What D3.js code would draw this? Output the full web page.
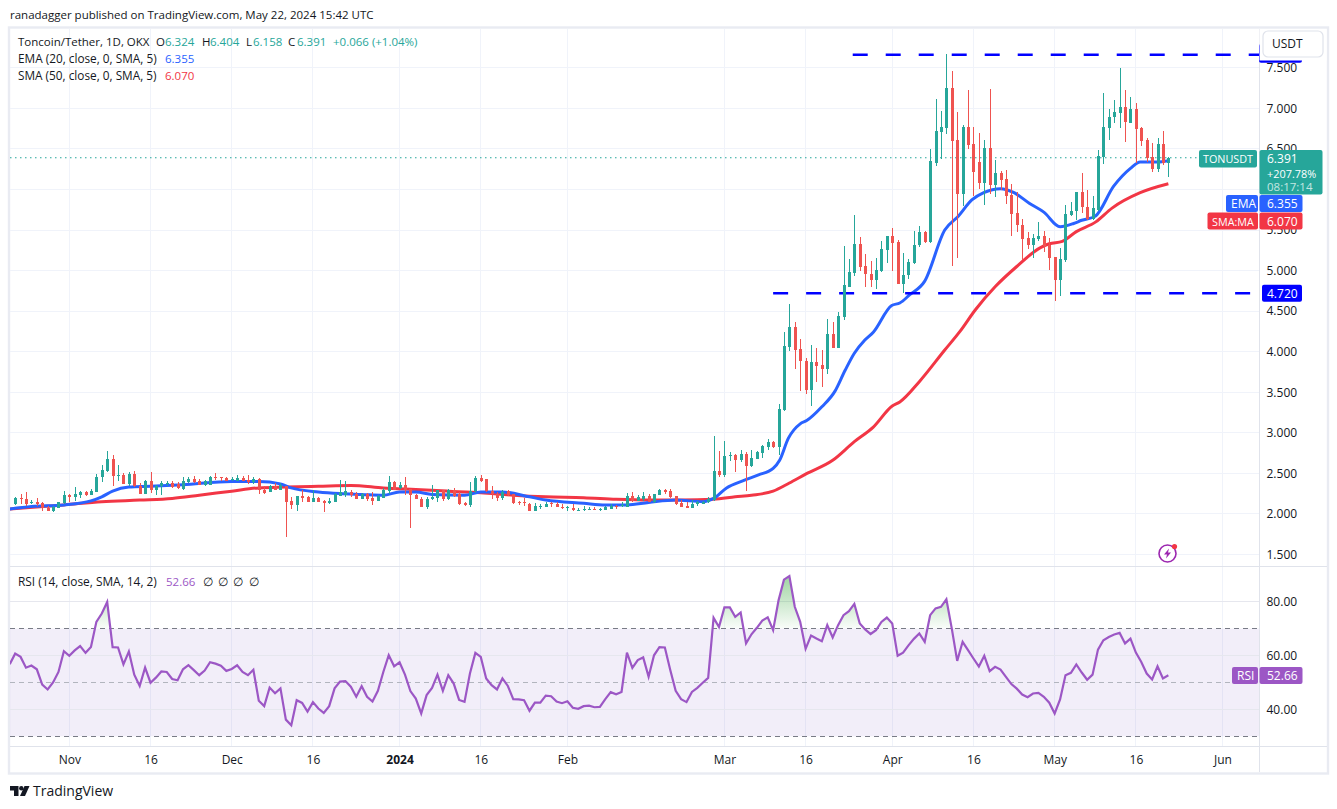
<!DOCTYPE html>
<html><head><meta charset="utf-8">
<script src="https://cdn.jsdelivr.net/npm/d3@7"></script>
<style>
html,body{margin:0;padding:0;background:#fff;overflow:hidden}
svg{display:block}
text{font-family:"Open Sans","Noto Sans",sans-serif;font-size:12px;fill:#131722}
</style></head><body>
<svg id="c" width="1337" height="809"></svg>
<script>
// first candle is 22 Oct 2023, one candle per day
const firstDay = "2023-10-22";
const opens = [2.12,2.19,2.18,2.14,2.15,2.13,2.07,2.04,2.07,2.13,
2.23,2.21,2.23,2.27,2.23,2.27,2.45,2.53,2.68,2.47,
2.48,2.37,2.49,2.34,2.25,2.41,2.29,2.34,2.37,2.38,
2.37,2.31,2.39,2.43,2.40,2.35,2.36,2.45,2.45,2.44,
2.42,2.41,2.44,2.42,2.39,2.43,2.30,2.27,2.34,2.30,
2.34,2.16,2.11,2.22,2.21,2.15,2.19,2.16,2.13,2.15,
2.22,2.23,2.27,2.25,2.18,2.24,2.19,2.16,2.20,2.28,
2.39,2.32,2.36,2.31,2.23,2.18,2.08,2.18,2.20,2.29,
2.18,2.29,2.24,2.13,2.11,2.28,2.44,2.43,2.28,2.25,
2.19,2.28,2.24,2.14,2.14,2.12,2.04,2.08,2.09,2.13,
2.12,2.09,2.08,2.07,2.05,2.05,2.05,2.06,2.05,2.05,
2.06,2.10,2.10,2.09,2.22,2.16,2.18,2.22,2.14,2.23,
2.29,2.28,2.22,2.13,2.10,2.07,2.12,2.12,2.14,2.17,
2.53,2.48,2.72,2.73,2.66,2.74,2.59,2.68,2.75,2.82,
2.89,2.82,3.28,4.06,4.31,4.03,3.88,3.53,3.87,3.83,
3.78,4.22,4.05,4.43,4.80,4.97,5.33,5.05,4.96,4.88,
5.00,5.25,5.42,5.35,4.84,4.94,5.09,5.31,5.48,5.35,
6.33,6.71,6.76,7.25,6.61,5.95,6.77,6.56,6.34,6.08,
6.51,6.06,6.20,6.13,5.93,5.71,5.56,5.40,5.32,5.39,
5.43,5.32,5.17,4.88,5.13,5.69,5.74,5.97,5.78,5.64,
5.75,6.40,6.76,6.89,6.94,7.02,6.82,6.99,6.76,6.61,
6.40,6.25,6.56,6.324];
const highs = [2.21,2.25,2.27,2.17,2.20,2.14,2.10,2.10,2.15,2.28,
2.25,2.33,2.28,2.28,2.31,2.49,2.60,2.77,2.73,2.60,
2.50,2.51,2.53,2.38,2.42,2.51,2.36,2.41,2.41,2.40,
2.39,2.45,2.46,2.47,2.43,2.42,2.47,2.50,2.46,2.45,
2.45,2.48,2.47,2.48,2.45,2.44,2.34,2.35,2.38,2.38,
2.34,2.21,2.22,2.29,2.22,2.30,2.21,2.17,2.19,2.26,
2.42,2.41,2.30,2.27,2.26,2.26,2.27,2.23,2.32,2.47,
2.40,2.39,2.45,2.31,2.25,2.21,2.21,2.36,2.30,2.30,
2.31,2.32,2.27,2.15,2.39,2.47,2.48,2.43,2.34,2.27,
2.29,2.30,2.25,2.16,2.19,2.13,2.13,2.12,2.15,2.15,
2.15,2.12,2.10,2.12,2.07,2.10,2.09,2.08,2.07,2.10,
2.12,2.11,2.15,2.26,2.27,2.23,2.27,2.24,2.25,2.31,
2.31,2.31,2.22,2.17,2.15,2.17,2.16,2.16,2.21,2.96,
2.78,2.90,2.76,2.74,2.79,2.76,2.79,2.78,2.85,2.92,
2.90,3.35,4.24,4.59,4.36,4.15,3.92,4.08,4.05,4.02,
4.40,4.36,4.49,5.30,5.14,5.69,5.41,5.21,5.12,5.16,
5.36,5.43,5.53,5.38,5.22,5.14,5.49,5.55,5.49,6.50,
7.11,6.97,7.67,7.46,6.95,6.79,7.23,6.77,6.70,6.61,
7.24,6.36,6.23,6.24,6.07,5.97,5.64,5.48,5.45,5.60,
5.49,5.40,5.17,5.28,5.81,5.85,5.97,6.20,5.99,5.92,
6.49,7.19,6.99,7.10,7.50,7.23,7.14,7.06,6.77,6.64,
6.57,6.63,6.72,6.404];
const lows = [2.11,2.12,2.10,2.12,2.10,2.03,2.04,2.02,2.07,2.12,
2.14,2.16,2.20,2.22,2.23,2.27,2.39,2.52,2.34,2.41,
2.37,2.34,2.33,2.25,2.25,2.26,2.23,2.23,2.34,2.32,
2.31,2.30,2.38,2.38,2.35,2.34,2.35,2.42,2.41,2.40,
2.40,2.40,2.40,2.37,2.37,2.25,2.24,2.27,2.30,2.30,
1.71,2.06,2.04,2.14,2.15,2.14,2.14,2.02,2.12,2.15,
2.22,2.21,2.21,2.18,2.18,2.16,2.11,2.16,2.19,2.25,
2.29,2.31,2.23,1.82,2.18,2.08,2.06,2.17,2.14,2.16,
2.17,2.21,2.11,2.10,2.09,2.26,2.39,2.27,2.18,2.16,
2.17,2.22,2.12,2.11,2.10,2.03,2.03,2.06,2.08,2.09,
2.08,2.06,2.04,2.04,2.04,2.03,2.05,2.05,2.04,2.05,
2.06,2.06,2.09,2.09,2.15,2.16,2.16,2.14,2.13,2.23,
2.24,2.20,2.11,2.08,2.07,2.07,2.10,2.12,2.13,2.16,
2.45,2.46,2.65,2.52,2.64,2.28,2.58,2.68,2.69,2.79,
2.81,2.73,3.27,4.01,3.78,3.51,3.48,3.33,3.62,3.57,
3.72,4.04,4.04,4.39,4.80,4.93,4.99,4.80,4.80,4.77,
4.98,5.09,4.99,4.84,4.72,4.89,5.08,5.29,5.34,5.34,
6.29,6.37,6.68,5.06,5.16,5.79,6.50,5.92,6.01,5.81,
5.95,5.91,5.99,5.82,5.43,5.47,5.13,5.26,5.15,5.36,
5.23,5.01,4.62,4.69,5.11,5.67,5.62,5.71,5.62,5.62,
5.73,6.31,6.61,6.82,6.76,6.58,6.82,6.33,6.54,6.34,
6.22,6.21,6.30,6.158];
const closes = [2.20,2.18,2.12,2.15,2.12,2.07,2.04,2.09,2.14,2.23,
2.21,2.25,2.27,2.23,2.28,2.46,2.54,2.68,2.47,2.48,
2.37,2.49,2.34,2.25,2.41,2.29,2.34,2.38,2.38,2.33,
2.32,2.41,2.43,2.39,2.36,2.40,2.45,2.44,2.44,2.40,
2.43,2.44,2.40,2.39,2.43,2.29,2.26,2.34,2.30,2.35,
2.15,2.11,2.22,2.20,2.15,2.19,2.15,2.13,2.16,2.25,
2.27,2.28,2.23,2.18,2.25,2.18,2.16,2.22,2.30,2.39,
2.30,2.36,2.30,2.23,2.18,2.08,2.18,2.21,2.29,2.18,
2.29,2.22,2.12,2.11,2.28,2.44,2.41,2.28,2.24,2.19,
2.27,2.23,2.13,2.13,2.13,2.04,2.10,2.10,2.12,2.12,
2.09,2.08,2.09,2.05,2.05,2.06,2.06,2.05,2.06,2.08,
2.10,2.09,2.11,2.22,2.16,2.21,2.22,2.15,2.25,2.29,
2.27,2.21,2.12,2.09,2.07,2.12,2.14,2.15,2.18,2.53,
2.48,2.71,2.73,2.66,2.74,2.59,2.69,2.76,2.84,2.89,
2.82,3.29,4.07,4.31,4.02,3.88,3.53,3.87,3.82,3.78,
4.22,4.05,4.44,4.82,4.98,5.33,5.04,4.96,4.88,5.01,
5.26,5.42,5.34,4.84,4.95,5.10,5.32,5.48,5.35,6.35,
6.72,6.77,7.25,6.60,5.95,6.77,6.55,6.21,6.08,6.51,
6.06,6.20,6.12,5.92,5.70,5.56,5.39,5.32,5.40,5.43,
5.30,5.16,4.88,5.14,5.70,5.74,5.97,5.78,5.64,5.77,
6.41,6.77,6.89,6.95,7.02,6.83,6.99,6.75,6.60,6.39,
6.25,6.56,6.32,6.391];
// moving averages: vertices (day number, value)
const emaDays = [-1,3,9,14,16,18,21,25,31,40,45,49,51,56,60,64,68,71,74,77,83,86,90,95,98,105,109,113,117,122,127,129,131.4,134.5,137.3,140,141.2,142.8,145,146.2,149,151.4,153.3,155,156.9,158.5,161.9,163.4,165.2,168,171.7,174.2,176.7,178.9,182,184.5,187.3,190,193,195.5,197,199.5,202.9,206,207.8,211,213];
const emaVals = [2.06,2.09,2.11,2.16,2.21,2.28,2.33,2.34,2.36,2.40,2.40,2.37,2.32,2.27,2.25,2.24,2.23,2.27,2.27,2.24,2.23,2.27,2.27,2.21,2.17,2.13,2.11,2.11,2.14,2.17,2.15,2.19,2.32,2.41,2.48,2.56,2.66,2.93,3.11,3.15,3.32,3.51,3.77,3.98,4.14,4.24,4.57,4.60,4.70,4.87,5.50,5.67,5.87,5.96,6.01,5.96,5.83,5.72,5.54,5.58,5.62,5.67,6.04,6.26,6.34,6.34,6.355];
const smaDays = [-1,9,16,23,29,34,40,45,50,56,62,68,74,80,86,92,98,105,111,117,123,129,133,136,140,143,146,151,155,158.5,162,163.4,167,171.7,174.4,177.4,181,185,189.3,191,193.4,196,199.6,202.6,207.8,213];
const smaVals = [2.06,2.11,2.15,2.17,2.19,2.23,2.28,2.32,2.33,2.34,2.35,2.32,2.30,2.28,2.26,2.23,2.21,2.20,2.18,2.17,2.17,2.18,2.21,2.23,2.28,2.38,2.49,2.66,2.89,3.07,3.33,3.38,3.63,4.02,4.24,4.52,4.80,5.05,5.28,5.33,5.36,5.48,5.60,5.77,5.96,6.07];
// RSI from 21 Oct 2023
const rsiVals = [56.8,60.7,59.5,55.5,56.3,54.9,49.2,47.4,50,53.9,61.6,59.9,61.9,63.5,61,63.2,72.5,75.6,79.9,63.1,63,56.7,61.5,52.9,48.7,55.5,49.9,51.8,54.1,53.9,51.3,50.8,54.9,56.4,54.6,52.7,54.4,57.5,57,56.2,54.3,55,56.4,53.9,52.7,54.7,43.2,41.2,48.1,46,47.8,36.2,34.1,43.4,42.4,39.2,42.7,40.3,38.7,41.2,47.8,50.3,50.5,48.4,44.7,48.6,44.7,42.9,46.9,53.9,60.1,56,57.5,52.9,46.8,44,38.5,45.3,48,52.9,46.9,
52.7,49.6,43.5,42.8,53.3,61,59.5,51.5,49,47.4,51.5,48.7,43.8,43.7,43.4,39.5,42.5,42.5,45.1,44.9,42.9,42.3,43,40.6,40.2,41.2,41.4,40.8,40.9,43.8,46.4,45.6,46.5,61.1,55.4,58.3,59.3,52.1,60.1,63.1,63,54.6,46.9,43.8,42.7,46.5,48,49.9,51.7,74,70.6,77.9,77.9,74.4,76,64.5,67.9,70.3,73,74.2,69.4,80.5,88.2,89.5,78.1,72.5,62.5,67.4,66.3,65.3,71.3,66.7,71.3,75,76.5,79.2,71.9,69.7,68,69.4,72.5,74.1,71.9,59.9,61.1,63.8,66.2,68.2,65.1,75,77.5,78.1,80.9,70,58,65.1,62,58.9,55.9,59.9,54.2,55.8,54.8,52.1,49.4,47.7,45.5,44.5,45.9,46.1,44.7,42.5,38.5,43.7,52.7,53.6,56.7,53.7,51,52.9,62.2,65.7,66.9,67.8,68.4,64.5,66.3,61.1,57.6,53.3,51.1,56,51.5,52.66];
// axis ticks
const timeTicks = ["2023-11-01","2023-11-16","2023-12-01","2023-12-16","2024-01-01","2024-01-16","2024-02-01","2024-03-01","2024-03-16","2024-04-01","2024-04-16","2024-05-01","2024-05-16","2024-06-01"];
const timeTickLabels = ["Nov","16","Dec","16","2024","16","Feb","Mar","16","Apr","16","May","16","Jun"];
const priceTicks = [7.5,7,6.5,6,5.5,5,4.5,4,3.5,3,2.5,2,1.5];
const priceLabelTicks = [7.5,7,6.5,5.5,5,4.5,4,3.5,3,2.5,2,1.5];
const rsiTicks = [80,60,40];
const rsiBands = [70,50,30];
// horizontal levels drawn on the chart
const levelPrices = [7.66,4.72];
const levelStartDays = [154.7,140];

const GREEN="#26a69a",RED="#ef5350",BLUE="#2962ff",SMAC="#f23645",PURPLE="#9c57c5",GRID="#f0f3fa",FRAME="#e9ebf2";
const L=10,R=1259,T=29,MB=565,RT=567,RB=746,AXB=772,OUT=1327;
const svg=d3.select("#c");
const day0=new Date(firstDay+"T00:00:00Z");
const dateOf=d=>new Date(+day0+d*864e5);
const x=d3.scaleUtc().domain([new Date("2023-11-01T00:00:00Z"),new Date("2024-06-01T00:00:00Z")]).range([69.3,1222.5]);
const xd=d=>x(dateOf(d));
const y=d3.scaleLinear().domain([7.5,1.5]).range([67.8,554.4]);
const yr=d3.scaleLinear().domain([80,30]).range([601.7,736.3]);

// frame
svg.append("rect").attr("x",L-1).attr("y",T-1.5).attr("width",OUT-L+2).attr("height",AXB-T+3).attr("fill","#fff").attr("stroke",FRAME).attr("stroke-width",2.4);
const defs=svg.append("defs");
defs.append("clipPath").attr("id","main").append("rect").attr("x",L).attr("y",T).attr("width",R-L).attr("height",MB-T);
defs.append("clipPath").attr("id","rp").append("rect").attr("x",L).attr("y",RT).attr("width",R-L).attr("height",RB-RT);
defs.append("clipPath").attr("id","ob").append("rect").attr("x",L).attr("y",RT).attr("width",R-L).attr("height",yr(70)-RT);
const gr=defs.append("linearGradient").attr("id","obg").attr("gradientUnits","userSpaceOnUse").attr("x1",0).attr("x2",0).attr("y1",yr(92)).attr("y2",yr(70));
gr.append("stop").attr("offset",0).attr("stop-color","#4caf50").attr("stop-opacity",.6);
gr.append("stop").attr("offset",1).attr("stop-color","#4caf50").attr("stop-opacity",.03);

// grid
const g=svg.append("g").attr("shape-rendering","crispEdges");
const tickDates=timeTicks.map(t=>new Date(t+"T00:00:00Z"));
g.selectAll(".v").data(tickDates).join("line").attr("x1",d=>x(d)).attr("x2",d=>x(d)).attr("y1",T).attr("y2",RB).attr("stroke",GRID);
g.selectAll(".h").data(priceTicks).join("line").attr("x1",L).attr("x2",R).attr("y1",d=>y(d)).attr("y2",d=>y(d)).attr("stroke",GRID);
// pane dividers
[[L,OUT,MB+1,MB+1],[L,OUT,RB,RB],[R,R,T,AXB]].forEach(s=>g.append("line").attr("x1",s[0]).attr("x2",s[1]).attr("y1",s[2]).attr("y2",s[3]).attr("stroke","#e0e3eb"));

// price pane
const main=svg.append("g").attr("clip-path","url(#main)");
const lineCurve=(days,vals,sc)=>d3.line().x((d,i)=>xd(days[i])).y(d=>sc(d)).curve(d3.curveMonotoneX)(vals);
main.append("path").attr("d",lineCurve(smaDays,smaVals,y)).attr("fill","none").attr("stroke",SMAC).attr("stroke-width",3);
main.append("path").attr("d",lineCurve(emaDays,emaVals,y)).attr("fill","none").attr("stroke",BLUE).attr("stroke-width",3);
// levels
main.selectAll(".lvl").data(levelPrices).join("line")
 .attr("x1",(d,i)=>xd(levelStartDays[i])).attr("x2",R).attr("y1",d=>y(d)).attr("y2",d=>y(d))
 .attr("stroke","#0000ff").attr("stroke-width",2.5).attr("stroke-dasharray","15 18");
// last price dotted
main.append("line").attr("x1",L).attr("x2",1199).attr("y1",y(closes[213])).attr("y2",y(closes[213])).attr("stroke",GREEN).attr("stroke-dasharray","1.5 3.5").attr("stroke-width",1.1);
// candles
const idx=d3.range(opens.length);
const colr=i=>closes[i]>=opens[i]?GREEN:RED;
const cg=main.append("g").attr("shape-rendering","crispEdges");
cg.selectAll(".w").data(idx).join("rect").attr("x",i=>Math.round(xd(i))).attr("width",1).attr("y",i=>y(highs[i])).attr("height",i=>y(lows[i])-y(highs[i])).attr("fill",colr);
cg.selectAll(".b").data(idx).join("rect").attr("x",i=>Math.round(xd(i))-1).attr("width",3)
 .attr("y",i=>y(Math.max(opens[i],closes[i]))).attr("height",i=>Math.max(1,Math.abs(y(opens[i])-y(closes[i])))).attr("fill",colr);

// flash icon
const ic=svg.append("g").attr("transform","translate(1167.5,553.5)");
ic.append("circle").attr("r",8.5).attr("fill","#fff").attr("stroke","#9c27b0").attr("stroke-width",1.6);
ic.append("path").attr("d","M1.5,-5 L-3.5,1 L-0.5,1 L-1.5,5 L3.5,-1 L0.5,-1 Z").attr("fill","#9c27b0");
ic.append("circle").attr("cx",7).attr("cy",-7).attr("r",2.6).attr("fill","#f23645");

// RSI pane
const rp=svg.append("g").attr("clip-path","url(#rp)");
rp.append("rect").attr("x",L).attr("width",R-L).attr("y",yr(70)).attr("height",yr(30)-yr(70)).attr("fill","#7e57c2").attr("fill-opacity",.1);
rp.append("g").attr("shape-rendering","crispEdges").selectAll("line").data(rsiTicks).join("line").attr("x1",L).attr("x2",R).attr("y1",d=>yr(d)).attr("y2",d=>yr(d)).attr("stroke","#e6e7ee");
const dashC={70:"#787b86",50:"#b2b5be",30:"#787b86"};
rp.append("g").attr("shape-rendering","crispEdges").selectAll(".d").data(rsiBands).join("line").attr("x1",L).attr("x2",R).attr("y1",d=>yr(d)).attr("y2",d=>yr(d)).attr("stroke",d=>dashC[d]).attr("stroke-dasharray","5 4");
const rsiDays=rsiVals.map((v,i)=>i-1);
rp.append("path").attr("clip-path","url(#ob)").attr("d",d3.area().x((d,i)=>xd(rsiDays[i])).y0(yr(70)).y1(d=>yr(d))(rsiVals)).attr("fill","url(#obg)");
rp.append("path").attr("d",d3.line().x((d,i)=>xd(rsiDays[i])).y(d=>yr(d))(rsiVals)).attr("fill","none").attr("stroke",PURPLE).attr("stroke-width",2.2);

// axes
const ax=d3.axisBottom(x).tickValues(tickDates).tickSize(0).tickFormat((d,i)=>timeTickLabels[i]);
const axg=svg.append("g").attr("transform",`translate(0,${RB})`).call(ax);
axg.select(".domain").remove();
axg.selectAll("text").attr("y",9).attr("dy","0.71em").style("font-size","12px").style("font-weight",(d,i)=>timeTickLabels[i]==="2024"?700:400);
const ay=d3.axisRight(y).tickValues(priceLabelTicks).tickSize(0).tickFormat(d3.format(".3f"));
const ayg=svg.append("g").attr("transform","translate(1266.5,0)").call(ay);ayg.select(".domain").remove();
ayg.selectAll("text").attr("x",0).style("font-size","12px");
const ar=d3.axisRight(yr).tickValues(rsiTicks).tickSize(0).tickFormat(d3.format(".2f"));
const arg=svg.append("g").attr("transform","translate(1266.5,0)").call(ar);arg.select(".domain").remove();
arg.selectAll("text").attr("x",0).style("font-size","12px");

// price scale labels
function box(x0,y0,w,h,fill){return svg.append("rect").attr("x",x0).attr("y",y0).attr("width",w).attr("height",h).attr("fill",fill).attr("rx",2);}
function txt(s,x0,y0,o={}){const t=svg.append("text").attr("x",x0).attr("y",y0).text(s);
 t.style("fill",o.fill||"#131722").style("font-size",(o.size||12)+"px");if(o.anchor)t.attr("text-anchor",o.anchor);if(o.weight)t.style("font-weight",o.weight);return t;}
const lab=(s,xx,yy,f,sz)=>txt(s,xx,yy,{fill:f||"#fff",size:sz||12});
box(1259,44,43,18.7,"#0000ff");
svg.append("rect").attr("x",1259.5).attr("y",T).attr("width",OUT-1260).attr("height",31.5).attr("fill","#fff");
svg.append("rect").attr("x",1263).attr("y",31).attr("width",60).attr("height",26).attr("rx",5).attr("fill","#fff").attr("stroke","#e0e3eb").attr("stroke-width",1.2);
txt("USDT",1272,48);
box(1262,y(4.72)-8.5,40,17,"#0000ff");lab(d3.format(".3f")(4.72),1267,y(4.72)+4.5);
box(1199,150,58,17.5,GREEN);lab("TONUSDT",1203,163,"#fff",10.8);
box(1259.5,150,63,44.5,GREEN);lab("6.391",1267,163);lab("+207.78%",1267,177.5,"#fff",10.9);lab("08:17:14",1267,191,"#c3e6e2",11.5);
box(1226,195,32,17,BLUE);lab("EMA",1231,208);box(1259.5,195,43,17,BLUE);lab("6.355",1267,208);
box(1207.5,212.5,50.5,17,SMAC);lab("SMA:MA",1212,225.5,"#fff",10.8);box(1259.5,212.5,43,17,SMAC);lab("6.070",1267,225.5);
box(1232,667,26,17,PURPLE);lab("RSI",1237,680);box(1259.5,667,43,17,PURPLE);lab("52.66",1267,680);

// header and legends
txt("ranadagger published on TradingView.com, May 22, 2024 15:42 UTC",10,19,{size:11.5});
txt("Toncoin/Tether, 1D, OKX",18,46,{size:11.5});
[["O",156,"6.324",165],["H",202,"6.404",210],["L",246,"6.158",253],["C",288,"6.391",297]].forEach(r=>{txt(r[0],r[1],46,{size:11.5});txt(r[2],r[3],46,{size:11.5,fill:GREEN});});
txt("+0.066 (+1.04%)",333,46,{size:11.5,fill:GREEN});
txt("EMA (20, close, 0, SMA, 5)",18,63,{size:11.8});txt("6.355",165,63,{size:11.5,fill:BLUE});
txt("SMA (50, close, 0, SMA, 5)",18,80,{size:11.8});txt("6.070",165,80,{size:11.5,fill:SMAC});
txt("RSI (14, close, SMA, 14, 2)",18,586,{size:11.9});txt("52.66",166,586,{size:11.5,fill:PURPLE});
[203,218,233,249].forEach(v=>txt("∅",v,586,{size:11.5}));

// logo
const lg=svg.append("g").attr("fill","#131722");
lg.append("path").attr("d","M10 786H18.5V796H14V790.5H10Z");
lg.append("circle").attr("cx",21.3).attr("cy",788.2).attr("r",2.2);
lg.append("path").attr("d","M24.5 786H29.5L25 796H20Z");
txt("TradingView",33,796,{size:14,fill:"#131722"});
</script>
</body></html>
